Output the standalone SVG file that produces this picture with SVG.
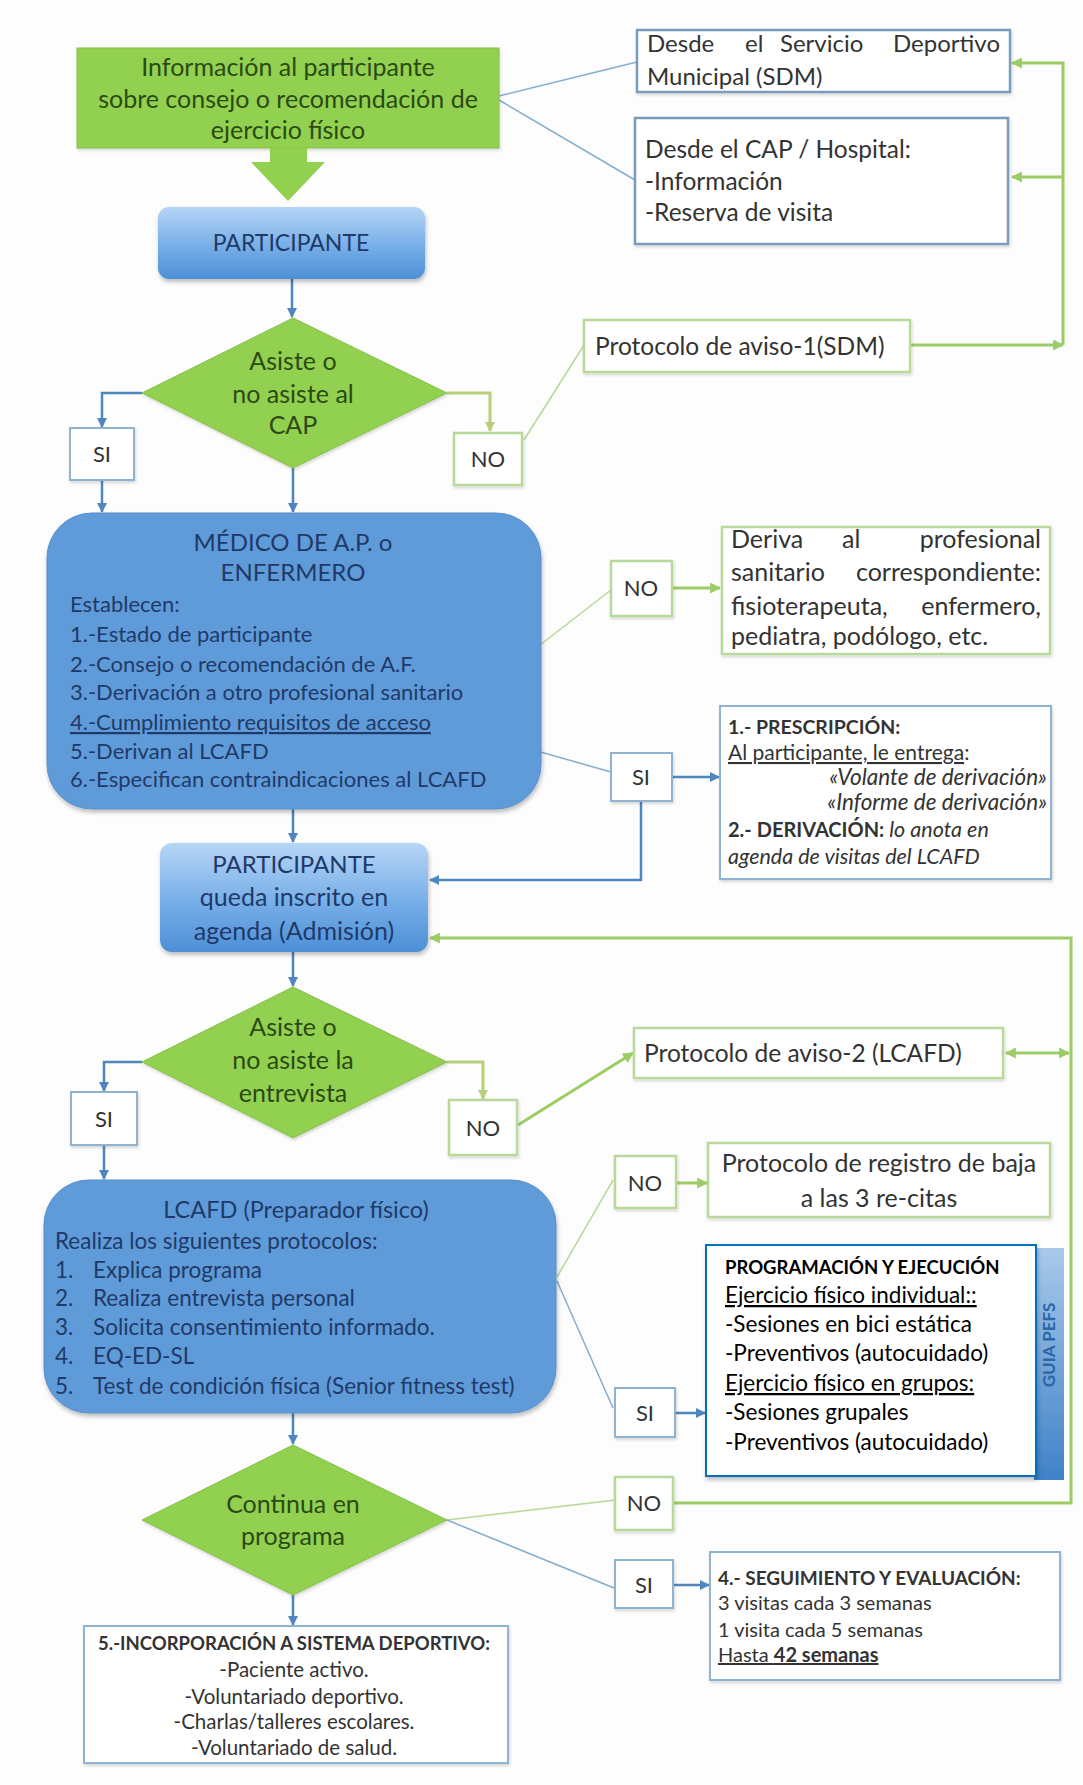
<svg xmlns="http://www.w3.org/2000/svg" width="1083" height="1785" viewBox="0 0 1083 1785">
<defs>
<style>
text{font-family:Lato,'Liberation Sans',sans-serif;}
.gt{fill:#2b4a16;font-size:25px;text-anchor:middle;}
.bt{fill:#1f3a68;}
.dk{fill:#333;}
.c{text-anchor:middle;}
.e{text-anchor:end;}
.b{font-weight:bold;}
.i{font-style:italic;}
.u{text-decoration:underline;}
.wb{fill:#fff;stroke:#8fb3d3;stroke-width:2;}
.wg{fill:#fff;stroke:#b9d99b;stroke-width:2.5;}
.wbd{fill:#fff;stroke:#7a9bbb;stroke-width:2.5;}
.cb{fill:none;stroke:#4f86c0;stroke-width:2.5;}
.cbt{fill:none;stroke:#86acd0;stroke-width:1.5;}
.cg{fill:none;stroke:#9ccc65;stroke-width:3;}
.cgt{fill:none;stroke:#b7d896;stroke-width:1.5;}
.co{fill:none;stroke:#b8cf7a;stroke-width:3;}
.grn{fill:#92d050;stroke:#86bf48;stroke-width:1;}
.blu{fill:#5e9bd8;stroke:#5790cc;stroke-width:1;}
</style>
<marker id="ab" viewBox="0 0 10 10" refX="9" refY="5" markerWidth="10" markerHeight="10" markerUnits="userSpaceOnUse" orient="auto"><path d="M0,0 L10,5 L0,10 z" fill="#4f86c0"/></marker>
<marker id="ag" viewBox="0 0 10 10" refX="9" refY="5" markerWidth="11" markerHeight="11" markerUnits="userSpaceOnUse" orient="auto"><path d="M0,0 L10,5 L0,10 z" fill="#9ccc65"/></marker>
<marker id="ags" viewBox="0 0 10 10" refX="1" refY="5" markerWidth="11" markerHeight="11" markerUnits="userSpaceOnUse" orient="auto"><path d="M10,0 L0,5 L10,10 z" fill="#9ccc65"/></marker>
<marker id="ao" viewBox="0 0 10 10" refX="9" refY="5" markerWidth="10" markerHeight="10" markerUnits="userSpaceOnUse" orient="auto"><path d="M0,0 L10,5 L0,10 z" fill="#b8cf7a"/></marker>
<linearGradient id="pg" x1="0" y1="0" x2="0" y2="1"><stop offset="0" stop-color="#b6d5f6"/><stop offset="0.55" stop-color="#76aee8"/><stop offset="1" stop-color="#4d8fd6"/></linearGradient>
<linearGradient id="gp" x1="0" y1="0" x2="0" y2="1"><stop offset="0" stop-color="#a9c9ea"/><stop offset="1" stop-color="#3f82c8"/></linearGradient>
<filter id="sh" x="-10%" y="-10%" width="130%" height="130%"><feDropShadow dx="1" dy="3" stdDeviation="2" flood-color="#000" flood-opacity="0.25"/></filter>
<filter id="sl" x="-10%" y="-10%" width="130%" height="130%"><feDropShadow dx="1" dy="2" stdDeviation="1.5" flood-color="#000" flood-opacity="0.15"/></filter>
</defs>
<rect width="1083" height="1785" fill="#fcfdfc"/>

<g id="connectors">
<line class="cbt" x1="499" y1="96" x2="637" y2="62"/>
<line class="cbt" x1="499" y1="100" x2="635" y2="180"/>
<polyline class="cg" points="910,345 1063,345" marker-end="url(#ag)"/>
<polyline class="cg" points="1063,345 1063,63 1012,63" marker-end="url(#ag)"/>
<line class="cg" x1="1063" y1="177" x2="1012" y2="177" marker-end="url(#ag)"/>
<line class="cb" x1="292" y1="279" x2="292" y2="317" stroke-width="2" marker-end="url(#ab)"/>
<polyline class="cb" points="142,393 102,393 102,427" marker-end="url(#ab)"/>
<polyline class="co" points="447,393 490,393 490,431" marker-end="url(#ao)"/>
<line class="cgt" x1="524" y1="440" x2="584" y2="345"/>
<line class="cb" x1="102" y1="480" x2="102" y2="512" marker-end="url(#ab)"/>
<line class="cb" x1="293" y1="468" x2="293" y2="512" stroke-width="2" marker-end="url(#ab)"/>
<line class="cgt" x1="442" y1="721" x2="611" y2="590"/>
<line class="cbt" x1="442" y1="724" x2="611" y2="772"/>
<line class="cg" x1="672" y1="588" x2="720" y2="588" marker-end="url(#ag)"/>
<line class="cb" x1="672" y1="777" x2="719" y2="777" marker-end="url(#ab)"/>
<polyline class="cb" points="641,801 641,880 430,880" marker-end="url(#ab)"/>
<line class="cb" x1="293" y1="809" x2="293" y2="842" stroke-width="2" marker-end="url(#ab)"/>
<polyline class="cg" points="673,1503 1071,1503 1071,938 430,938" marker-end="url(#ag)"/>
<line class="cg" x1="1006" y1="1053" x2="1069" y2="1053" marker-start="url(#ags)" marker-end="url(#ag)"/>
<line class="cb" x1="293" y1="952" x2="293" y2="986" stroke-width="2" marker-end="url(#ab)"/>
<polyline class="cb" points="142,1062 104,1062 104,1091" marker-end="url(#ab)"/>
<polyline class="co" points="447,1062 483,1062 483,1099" marker-end="url(#ao)"/>
<line class="cg" x1="518" y1="1125" x2="633" y2="1053" stroke-width="2.5" marker-end="url(#ag)"/>
<line class="cb" x1="104" y1="1145" x2="104" y2="1179" marker-end="url(#ab)"/>
<line class="cgt" x1="557" y1="1277" x2="613" y2="1180"/>
<line class="cbt" x1="557" y1="1281" x2="613" y2="1408"/>
<line class="cg" x1="676" y1="1183" x2="707" y2="1183" marker-end="url(#ag)"/>
<line class="cb" x1="675" y1="1413" x2="705" y2="1413" marker-end="url(#ab)"/>
<line class="cb" x1="293" y1="1413" x2="293" y2="1444" stroke-width="2" marker-end="url(#ab)"/>
<line class="cgt" x1="447" y1="1520" x2="615" y2="1500"/>
<line class="cbt" x1="447" y1="1520" x2="614" y2="1588"/>
<line class="cb" x1="673" y1="1585" x2="709" y2="1585" marker-end="url(#ab)"/>
<line class="cb" x1="293" y1="1595" x2="293" y2="1625" stroke-width="2" marker-end="url(#ab)"/>
</g>

<g id="info">
<rect x="77" y="48" width="422" height="100" class="grn" filter="url(#sl)"/>
<text class="gt" x="288" y="76">Información al participante</text>
<text class="gt" x="288" y="108">sobre consejo o recomendación de</text>
<text class="gt" x="288" y="139">ejercicio físico</text>
</g>
<g id="bigarrow">
<polygon points="270,148 307,148 307,162 325,162 288,201 251,162 270,162" fill="#92d050"/>
</g>

<g id="sdm">
<rect x="637" y="30" width="373" height="62" class="wbd" filter="url(#sl)"/>
<text class="dk" font-size="24" x="647" y="52">Desde</text>
<text class="dk" font-size="24" x="745" y="52">el</text>
<text class="dk" font-size="24" x="780" y="52">Servicio</text>
<text class="dk e" font-size="24" x="1000" y="52">Deportivo</text>
<text class="dk" font-size="24" x="647" y="85">Municipal (SDM)</text>
</g>
<g id="cap">
<rect x="635" y="118" width="373" height="126" class="wbd" filter="url(#sl)"/>
<text class="dk" font-size="24.5" x="645" y="158">Desde el CAP / Hospital:</text>
<text class="dk" font-size="24.5" x="645" y="190">-Información</text>
<text class="dk" font-size="24.5" x="645" y="221">-Reserva de visita</text>
</g>

<g id="participante1">
<rect x="158" y="207" width="267" height="72" rx="11" fill="url(#pg)" filter="url(#sh)"/>
<text class="bt c" font-size="23" x="291" y="251">PARTICIPANTE</text>
</g>

<g id="aviso1">
<rect x="584" y="320" width="326" height="52" class="wg" filter="url(#sl)"/>
<text class="dk" font-size="24.5" x="595" y="355">Protocolo de aviso-1(SDM)</text>
</g>

<g id="diamond1">
<polygon points="293,318 447,393 293,468 142,393" class="grn" filter="url(#sl)"/>
<text class="gt" font-size="21.5" x="293" y="370">Asiste o</text>
<text class="gt" font-size="21.5" x="293" y="403">no asiste al</text>
<text class="gt" font-size="21.5" x="293" y="434">CAP</text>
</g>

<g id="si1">
<rect x="70" y="428" width="64" height="52" class="wb" filter="url(#sl)"/>
<text class="dk c" font-size="22" x="102" y="462">SI</text>
</g>
<g id="no1">
<rect x="454" y="433" width="68" height="52" class="wg" filter="url(#sl)"/>
<text class="dk c" font-size="22" x="488" y="467">NO</text>
</g>

<g id="medico">
<rect x="47" y="513" width="494" height="296" rx="45" class="blu" filter="url(#sh)"/>
<text class="bt c" font-size="24" x="293" y="551">MÉDICO DE A.P.  o</text>
<text class="bt c" font-size="24" x="293" y="581">ENFERMERO</text>
<text class="bt" font-size="22" x="70" y="612">Establecen:</text>
<text class="bt" font-size="22" x="70" y="642">1.-Estado de participante</text>
<text class="bt" font-size="22" x="70" y="672">2.-Consejo o recomendación de A.F.</text>
<text class="bt" font-size="22" x="70" y="700">3.-Derivación a otro profesional sanitario</text>
<text class="bt u" font-size="22" x="70" y="730">4.-Cumplimiento requisitos de acceso</text>
<text class="bt" font-size="22" x="70" y="759">5.-Derivan al LCAFD</text>
<text class="bt" font-size="22" x="70" y="787">6.-Especifican contraindicaciones al LCAFD</text>
</g>

<g id="no2">
<rect x="611" y="561" width="61" height="55" class="wg" filter="url(#sl)"/>
<text class="dk c" font-size="22" x="641" y="596">NO</text>
</g>
<g id="deriva">
<rect x="722" y="527" width="328" height="127" class="wg" filter="url(#sl)"/>
<text class="dk" font-size="25" x="731" y="548">Deriva</text>
<text class="dk" font-size="25" x="842" y="548">al</text>
<text class="dk e" font-size="25" x="1041" y="548">profesional</text>
<text class="dk" font-size="25" x="731" y="581">sanitario</text>
<text class="dk e" font-size="25" x="1041" y="581">correspondiente:</text>
<text class="dk" font-size="25" x="731" y="615">fisioterapeuta,</text>
<text class="dk e" font-size="25" x="1041" y="615">enfermero,</text>
<text class="dk" font-size="25" x="731" y="645">pediatra, podólogo, etc.</text>
</g>

<g id="si2">
<rect x="611" y="753" width="61" height="48" class="wb" filter="url(#sl)"/>
<text class="dk c" font-size="22" x="641" y="785">SI</text>
</g>
<g id="prescripcion">
<rect x="720" y="706" width="331" height="173" class="wb" filter="url(#sl)"/>
<text class="dk b" font-size="19.5" x="728" y="734">1.- PRESCRIPCIÓN:</text>
<text class="dk" font-size="21" x="728" y="760"><tspan class="u">Al participante, le entrega</tspan>:</text>
<text class="dk i e" font-size="22.5" x="1047" y="785">«Volante de derivación»</text>
<text class="dk i e" font-size="22.5" x="1047" y="810">«Informe  de derivación»</text>
<text class="dk" font-size="21" x="728" y="837"><tspan class="b" font-size="20">2.- DERIVACIÓN:</tspan><tspan class="i" font-size="21.5"> lo anota en</tspan></text>
<text class="dk i" font-size="21.5" x="728" y="864">agenda de visitas del LCAFD</text>
</g>

<g id="participante2">
<rect x="160" y="843" width="268" height="109" rx="12" fill="url(#pg)" filter="url(#sh)"/>
<text class="bt c" font-size="24" x="294" y="873">PARTICIPANTE</text>
<text class="bt c" font-size="25" x="294" y="906">queda inscrito en</text>
<text class="bt c" font-size="25" x="294" y="940">agenda (Admisión)</text>
</g>

<g id="diamond2">
<polygon points="293,987 447,1062 293,1138 142,1062" class="grn" filter="url(#sl)"/>
<text class="gt" font-size="21.5" x="293" y="1036">Asiste o</text>
<text class="gt" font-size="21.5" x="293" y="1069">no asiste la</text>
<text class="gt" font-size="21.5" x="293" y="1102">entrevista</text>
</g>

<g id="si3">
<rect x="71" y="1092" width="66" height="53" class="wb" filter="url(#sl)"/>
<text class="dk c" font-size="22" x="104" y="1127">SI</text>
</g>
<g id="no3">
<rect x="449" y="1100" width="68" height="55" class="wg" filter="url(#sl)"/>
<text class="dk c" font-size="22" x="483" y="1136">NO</text>
</g>
<g id="aviso2">
<rect x="634" y="1028" width="369" height="50" class="wg" filter="url(#sl)"/>
<text class="dk" font-size="24.5" x="644" y="1062">Protocolo de aviso-2 (LCAFD)</text>
</g>

<g id="lcafd">
<rect x="44" y="1180" width="512" height="233" rx="45" class="blu" filter="url(#sh)"/>
<text class="bt c" font-size="23.5" x="296" y="1218">LCAFD (Preparador físico)</text>
<text class="bt" font-size="22.5" x="55" y="1249">Realiza los siguientes protocolos:</text>
<text class="bt" font-size="22.5" x="55" y="1278">1.</text><text class="bt" font-size="22.5" x="93" y="1278">Explica programa</text>
<text class="bt" font-size="22.5" x="55" y="1306">2.</text><text class="bt" font-size="22.5" x="93" y="1306">Realiza entrevista personal</text>
<text class="bt" font-size="22.5" x="55" y="1335">3.</text><text class="bt" font-size="22.5" x="93" y="1335">Solicita consentimiento informado.</text>
<text class="bt" font-size="22.5" x="55" y="1364">4.</text><text class="bt" font-size="22.5" x="93" y="1364">EQ-ED-SL</text>
<text class="bt" font-size="22.5" x="55" y="1394">5.</text><text class="bt" font-size="22.5" x="93" y="1394">Test de condición física (Senior fitness test)</text>
</g>

<g id="no4">
<rect x="615" y="1156" width="61" height="52" class="wg" filter="url(#sl)"/>
<text class="dk c" font-size="22" x="645" y="1191">NO</text>
</g>
<g id="registro">
<rect x="708" y="1143" width="342" height="74" class="wg" filter="url(#sl)"/>
<text class="dk c" font-size="25" x="879" y="1172">Protocolo de registro de baja</text>
<text class="dk c" font-size="25" x="879" y="1207">a las 3 re-citas</text>
</g>

<g id="si5">
<rect x="615" y="1388" width="60" height="49" class="wb" filter="url(#sl)"/>
<text class="dk c" font-size="22" x="645" y="1421">SI</text>
</g>

<g id="guia">
<rect x="1034" y="1248" width="30" height="232" fill="url(#gp)"/>
<text font-size="17" fill="#2a66a8" class="b c" transform="translate(1055,1345) rotate(-90)">GUIA PEFS</text>
</g>
<g id="programacion">
<rect x="706" y="1245" width="330" height="231" fill="#fff" stroke="#0070c0" stroke-width="2" filter="url(#sh)"/>
<text class="b" font-size="18.5" fill="#000" x="725" y="1274">PROGRAMACIÓN Y EJECUCIÓN</text>
<text class="u" font-size="22.5" fill="#000" x="725" y="1303">Ejercicio físico individual::</text>
<text font-size="22.5" fill="#000" x="725" y="1332">-Sesiones en bici estática</text>
<text font-size="22.5" fill="#000" x="725" y="1361">-Preventivos (autocuidado)</text>
<text class="u" font-size="22.5" fill="#000" x="725" y="1391">Ejercicio físico en grupos:</text>
<text font-size="22.5" fill="#000" x="725" y="1420">-Sesiones grupales</text>
<text font-size="22.5" fill="#000" x="725" y="1450">-Preventivos (autocuidado)</text>
</g>

<g id="diamond3">
<polygon points="293,1445 447,1520 293,1595 142,1520" class="grn" filter="url(#sl)"/>
<text class="gt" font-size="23.5" x="293" y="1513">Continua en</text>
<text class="gt" font-size="23.5" x="293" y="1545">programa</text>
</g>

<g id="no5">
<rect x="615" y="1477" width="58" height="53" class="wg" filter="url(#sl)"/>
<text class="dk c" font-size="22" x="644" y="1511">NO</text>
</g>
<g id="si6">
<rect x="615" y="1560" width="58" height="48" class="wb" filter="url(#sl)"/>
<text class="dk c" font-size="22" x="644" y="1593">SI</text>
</g>
<g id="seguimiento">
<rect x="710" y="1552" width="350" height="128" class="wb" filter="url(#sl)"/>
<text class="dk b" font-size="19" x="718" y="1585">4.- SEGUIMIENTO Y EVALUACIÓN:</text>
<text class="dk" font-size="20" x="718" y="1610">3 visitas cada 3 semanas</text>
<text class="dk" font-size="20" x="718" y="1637">1 visita cada 5 semanas</text>
<text class="dk u" font-size="20" x="718" y="1662">Hasta <tspan class="b">42 semanas</tspan></text>
</g>

<g id="incorporacion">
<rect x="84" y="1626" width="424" height="137" class="wb" filter="url(#sl)"/>
<text class="dk b c" font-size="18.5" x="294" y="1650">5.-INCORPORACIÓN A SISTEMA DEPORTIVO:</text>
<text class="dk c" font-size="20.5" x="294" y="1677">-Paciente activo.</text>
<text class="dk c" font-size="20.5" x="294" y="1704">-Voluntariado deportivo.</text>
<text class="dk c" font-size="20.5" x="294" y="1729">-Charlas/talleres  escolares.</text>
<text class="dk c" font-size="20.5" x="294" y="1755">-Voluntariado de salud.</text>
</g>
</svg>
